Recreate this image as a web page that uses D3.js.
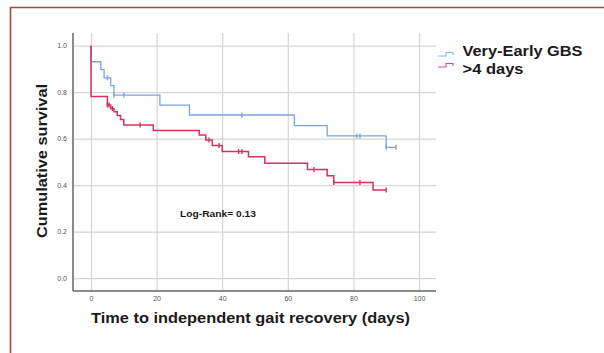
<!DOCTYPE html>
<html lang="en">
<head>
  <meta charset="UTF-8">
  <title>Kaplan-Meier</title>
  <style>
    body { margin: 0; background: #fff; }
    svg { display: block; font-family: "Liberation Sans", Arial, sans-serif; }
  </style>
</head>
<body>
  <svg width="604" height="353"></svg>

  <script src="https://d3js.org/d3.v7.min.js"></script>
  <script>
    // data
    const xTicks = [0, 20, 40, 60, 80, 100];
    const yTicks = [0, 0.2, 0.4, 0.6, 0.8, 1.0];

    const blueTimes = [0, 0, 3, 4, 6, 7, 21, 30, 62, 72, 90, 93];
    const blueSurv = [1.0, 0.931, 0.897, 0.862, 0.828, 0.787, 0.744, 0.702, 0.656, 0.612, 0.563, 0.563];
    const blueCensor = [5, 7, 10, 46, 81, 82, 90, 93];

    const redTimes = [0, 0, 5, 6, 7, 8, 9, 10, 19, 33, 35, 37, 40, 48, 53, 66, 72, 74, 86, 90];
    const redSurv = [1.0, 0.781, 0.745, 0.73, 0.716, 0.70, 0.683, 0.659, 0.635, 0.616, 0.594, 0.571, 0.545, 0.522, 0.494, 0.468, 0.441, 0.412, 0.379, 0.379];
    const redCensor = [5, 5.5, 6.5, 15, 36, 39, 45, 46, 68, 74, 82, 90];

    const seriesNames = ['Very-Early GBS', '>4 days'];
    const colors = ['#7aa6dc', '#d5325d'];

    const svg = d3.select('svg');

    // frame (only top + left visible)
    svg.append('path')
      .attr('d', 'M10.5,353 V7.5 H604')
      .attr('fill', 'none')
      .attr('stroke', '#9c4a3e')
      .attr('stroke-width', 1.6);

    const x = d3.scaleLinear().domain([0, 100]).range([91, 419]);
    const y = d3.scaleLinear().domain([0, 1]).range([278.2, 45.7]);

    const plotL = 73, plotR = 436, plotT = 33, plotB = 291;

    // horizontal grid + y labels
    const yAxis = svg.append('g')
      .attr('transform', `translate(${plotL},0)`)
      .call(d3.axisLeft(y).tickValues(yTicks).tickFormat(d3.format('.1f'))
        .tickSize(-(plotR - plotL)).tickPadding(6));
    yAxis.select('.domain').remove();

    // vertical grid + x labels
    const xAxis = svg.append('g')
      .attr('transform', `translate(0,${plotB})`)
      .call(d3.axisBottom(x).tickValues(xTicks)
        .tickSize(-(plotB - plotT)).tickPadding(5));
    xAxis.select('.domain').remove();

    svg.selectAll('.tick line')
      .attr('stroke', '#d5d5d5')
      .attr('stroke-width', 1.2);
    svg.selectAll('.tick text')
      .attr('fill', '#555')
      .attr('font-size', 7);

    // axis lines
    svg.append('line')
      .attr('x1', plotL).attr('x2', plotL).attr('y1', plotT).attr('y2', plotB)
      .attr('stroke', '#666').attr('stroke-width', 1.5);
    svg.append('line')
      .attr('x1', plotL).attr('x2', plotR).attr('y1', plotB).attr('y2', plotB)
      .attr('stroke', '#666').attr('stroke-width', 1.5);

    const stepLine = d3.line()
      .x(d => x(d[0]))
      .y(d => y(d[1]))
      .curve(d3.curveStepAfter);

    const survAt = (times, surv, t) => {
      let s = surv[0];
      times.forEach((tt, i) => { if (tt <= t) s = surv[i]; });
      return s;
    };

    const series = [
      { times: blueTimes, surv: blueSurv, censor: blueCensor, color: colors[0], w: 1.3 },
      { times: redTimes, surv: redSurv, censor: redCensor, color: colors[1], w: 1.5 }
    ];

    series.forEach(s => {
      svg.append('path')
        .datum(s.times.map((t, i) => [t, s.surv[i]]))
        .attr('d', stepLine)
        .attr('fill', 'none')
        .attr('stroke', s.color)
        .attr('stroke-width', s.w);

      svg.selectAll(null)
        .data(s.censor)
        .enter().append('line')
        .attr('x1', d => x(d)).attr('x2', d => x(d))
        .attr('y1', d => y(survAt(s.times, s.surv, d)) - 2.5)
        .attr('y2', d => y(survAt(s.times, s.surv, d)) + 2.5)
        .attr('stroke', s.color)
        .attr('stroke-width', 1.4);
    });

    // axis titles
    svg.append('text')
      .attr('x', 91).attr('y', 323)
      .attr('font-size', 14.5).attr('font-weight', 'bold')
      .attr('fill', '#1a1a1a')
      .attr('textLength', 319).attr('lengthAdjust', 'spacingAndGlyphs')
      .text('Time to independent gait recovery (days)');

    svg.append('text')
      .attr('transform', 'translate(47,238) rotate(-90)')
      .attr('font-size', 15).attr('font-weight', 'bold')
      .attr('fill', '#1a1a1a')
      .attr('textLength', 154).attr('lengthAdjust', 'spacingAndGlyphs')
      .text('Cumulative survival');

    svg.append('text')
      .attr('x', 180).attr('y', 216.5)
      .attr('font-size', 9.5).attr('font-weight', 'bold')
      .attr('fill', '#1a1a1a')
      .attr('textLength', 76).attr('lengthAdjust', 'spacingAndGlyphs')
      .text('Log-Rank= 0.13');

    // legend
    const legendW = [120, 61];
    const legend = svg.append('g').attr('transform', 'translate(438,0)');
    seriesNames.forEach((name, i) => {
      const cy = 55 + i * 11;
      legend.append('path')
        .attr('d', `M0,${cy + 1} H8 V${cy - 2.5} H15 V${cy}`)
        .attr('fill', 'none')
        .attr('stroke', colors[i])
        .attr('stroke-width', 1.1)
        .attr('opacity', 0.85);
      legend.append('text')
        .attr('x', 24.5).attr('y', cy + 1 + i * 7)
        .attr('font-size', 15).attr('font-weight', 'bold')
        .attr('fill', '#1a1a1a')
        .attr('textLength', legendW[i]).attr('lengthAdjust', 'spacingAndGlyphs')
        .text(name);
    });
  </script>
</body>
</html>
